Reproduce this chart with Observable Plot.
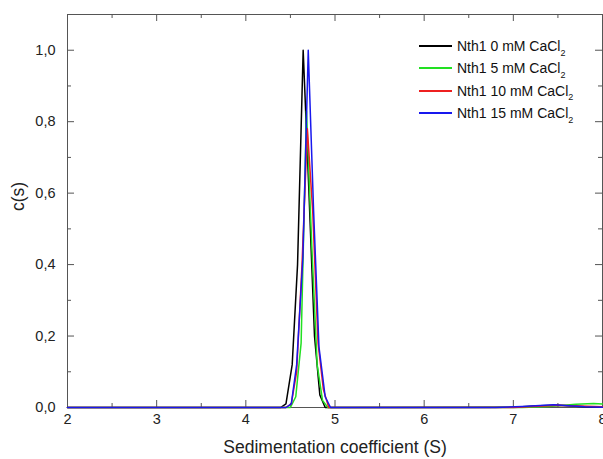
<!DOCTYPE html>
<html>
<head>
<meta charset="utf-8">
<script src="https://cdn.jsdelivr.net/npm/d3@7"></script>
<script src="https://cdn.jsdelivr.net/npm/@observablehq/plot@0.6"></script>
<style>
  body { margin: 0; background: white; }
  #wrap { position: relative; width: 603px; height: 459px; font-family: "Liberation Sans", Arial, sans-serif; }
  #legend { position: absolute; left: 419px; top: 38px; }
  .row { position: absolute; left: 0; height: 16px; white-space: nowrap; font-size: 14px; line-height: 16px; color: #111; }
  .swatch { position: absolute; left: 0; top: 7px; width: 33px; height: 2px; }
  .lab { position: absolute; left: 38px; top: 0; }
  .lab sub { font-size: 9px; position: relative; top: 1px; }
</style>
</head>
<body>
<div id="wrap"><div id="legend"></div></div>
<script>
// ---- data ----
const seriesNames = ["Nth1 0 mM CaCl", "Nth1 5 mM CaCl", "Nth1 10 mM CaCl", "Nth1 15 mM CaCl"];
const seriesColors = ["#000000", "#22e022", "#ee2020", "#1818ee"];

const black_s = [2, 4.39, 4.45, 4.52, 4.58, 4.643, 4.705, 4.77, 4.83, 4.89, 7.0, 7.3, 7.5, 7.8, 8];
const black_c = [0, 0, 0.01, 0.12, 0.40, 1.0, 0.62, 0.20, 0.035, 0, 0.001, 0.005, 0.006, 0.002, 0.001];

const green_s = [2, 4.50, 4.56, 4.62, 4.68, 4.74, 4.80, 4.86, 4.92, 7.1, 7.4, 7.7, 7.9, 8];
const green_c = [0, 0, 0.03, 0.18, 0.83, 0.45, 0.12, 0.02, 0, 0, 0.003, 0.009, 0.011, 0.010];

const red_s = [2, 4.45, 4.51, 4.57, 4.63, 4.69, 4.75, 4.81, 4.87, 4.93, 7.0, 7.5, 8];
const red_c = [0, 0, 0.01, 0.10, 0.40, 0.78, 0.55, 0.18, 0.05, 0, 0, 0.006, 0.002];

const blue_s = [2, 4.45, 4.51, 4.57, 4.64, 4.70, 4.76, 4.82, 4.89, 4.95, 6.8, 7.1, 7.45, 7.8, 8];
const blue_c = [0, 0, 0.01, 0.12, 0.42, 1.0, 0.55, 0.17, 0.03, 0, 0, 0.003, 0.008, 0.002, 0.001];

const xMajor = [2, 3, 4, 5, 6, 7, 8];
const xMinor = [2.5, 3.5, 4.5, 5.5, 6.5, 7.5];
const yMajor = [0, 0.2, 0.4, 0.6, 0.8, 1.0];
const yMinor = [0.1, 0.3, 0.5, 0.7, 0.9];

const xLabel = "Sedimentation coefficient (S)";
const yLabel = "c(s)";

// ---- build ----
const allS = [black_s, green_s, red_s, blue_s];
const allC = [black_c, green_c, red_c, blue_c];
const series = seriesNames.map((name, k) => ({
  name, color: seriesColors[k],
  rows: allS[k].map((s, i) => ({ s, c: allC[k][i] }))
}));

const xMin = 2, xMax = 8, yMin = 0, yMax = 1.1;
const pxX = (602 - 67) / (xMax - xMin);   // px per x unit
const pxY = (407 - 14) / (yMax - yMin);   // px per y unit
const majLen = 7, minLen = 4;
const axisColor = "#555";

const tickMarks = [
  Plot.ruleX(xMajor, { x: d => d, y1: yMin, y2: yMin + majLen / pxY, stroke: axisColor }),
  Plot.ruleX(xMinor, { x: d => d, y1: yMin, y2: yMin + minLen / pxY, stroke: axisColor }),
  Plot.ruleX(xMajor, { x: d => d, y1: yMax, y2: yMax - majLen / pxY, stroke: axisColor }),
  Plot.ruleX(xMinor, { x: d => d, y1: yMax, y2: yMax - minLen / pxY, stroke: axisColor }),
  Plot.ruleY(yMajor, { y: d => d, x1: xMin, x2: xMin + majLen / pxX, stroke: axisColor }),
  Plot.ruleY(yMinor, { y: d => d, x1: xMin, x2: xMin + minLen / pxX, stroke: axisColor }),
  Plot.ruleY(yMajor, { y: d => d, x1: xMax, x2: xMax - majLen / pxX, stroke: axisColor }),
  Plot.ruleY(yMinor, { y: d => d, x1: xMax, x2: xMax - minLen / pxX, stroke: axisColor })
];

const chart = Plot.plot({
  width: 603, height: 459,
  marginLeft: 67, marginTop: 14, marginRight: 1, marginBottom: 52,
  style: { fontFamily: "'Liberation Sans', Arial, sans-serif", fontSize: "14px", color: "#222", background: "white" },
  x: { domain: [xMin, xMax] },
  y: { domain: [yMin, yMax] },
  marks: [
    Plot.frame({ stroke: axisColor }),
    ...tickMarks,
    ...series.map(d => Plot.line(d.rows, { x: "s", y: "c", stroke: d.color, strokeWidth: 1.5 })),
    Plot.axisX({ ticks: xMajor, tickSize: 0, tickPadding: 6, tickFormat: d => String(d), label: null, fontSize: 14.5 }),
    Plot.axisY({ ticks: yMajor, tickSize: 0, tickPadding: 12, tickFormat: d => d.toFixed(1).replace(".", ","), label: null, fontSize: 14.5 }),
    Plot.text([xLabel], { text: d => d, frameAnchor: "bottom", dy: 45, fontSize: 17.5, fill: "#222" }),
    Plot.text([yLabel], { text: d => d, frameAnchor: "left", dx: -49, rotate: -90, fontSize: 17.5, fill: "#222" })
  ]
});
document.getElementById("wrap").prepend(chart);

// legend
const legend = document.getElementById("legend");
series.forEach((d, i) => {
  const row = document.createElement("div");
  row.className = "row";
  row.style.top = (i * 22.3) + "px";
  row.innerHTML = `<div class="swatch" style="background:${d.color}"></div><span class="lab">${d.name}<sub>2</sub></span>`;
  legend.appendChild(row);
});
</script>
</body>
</html>
